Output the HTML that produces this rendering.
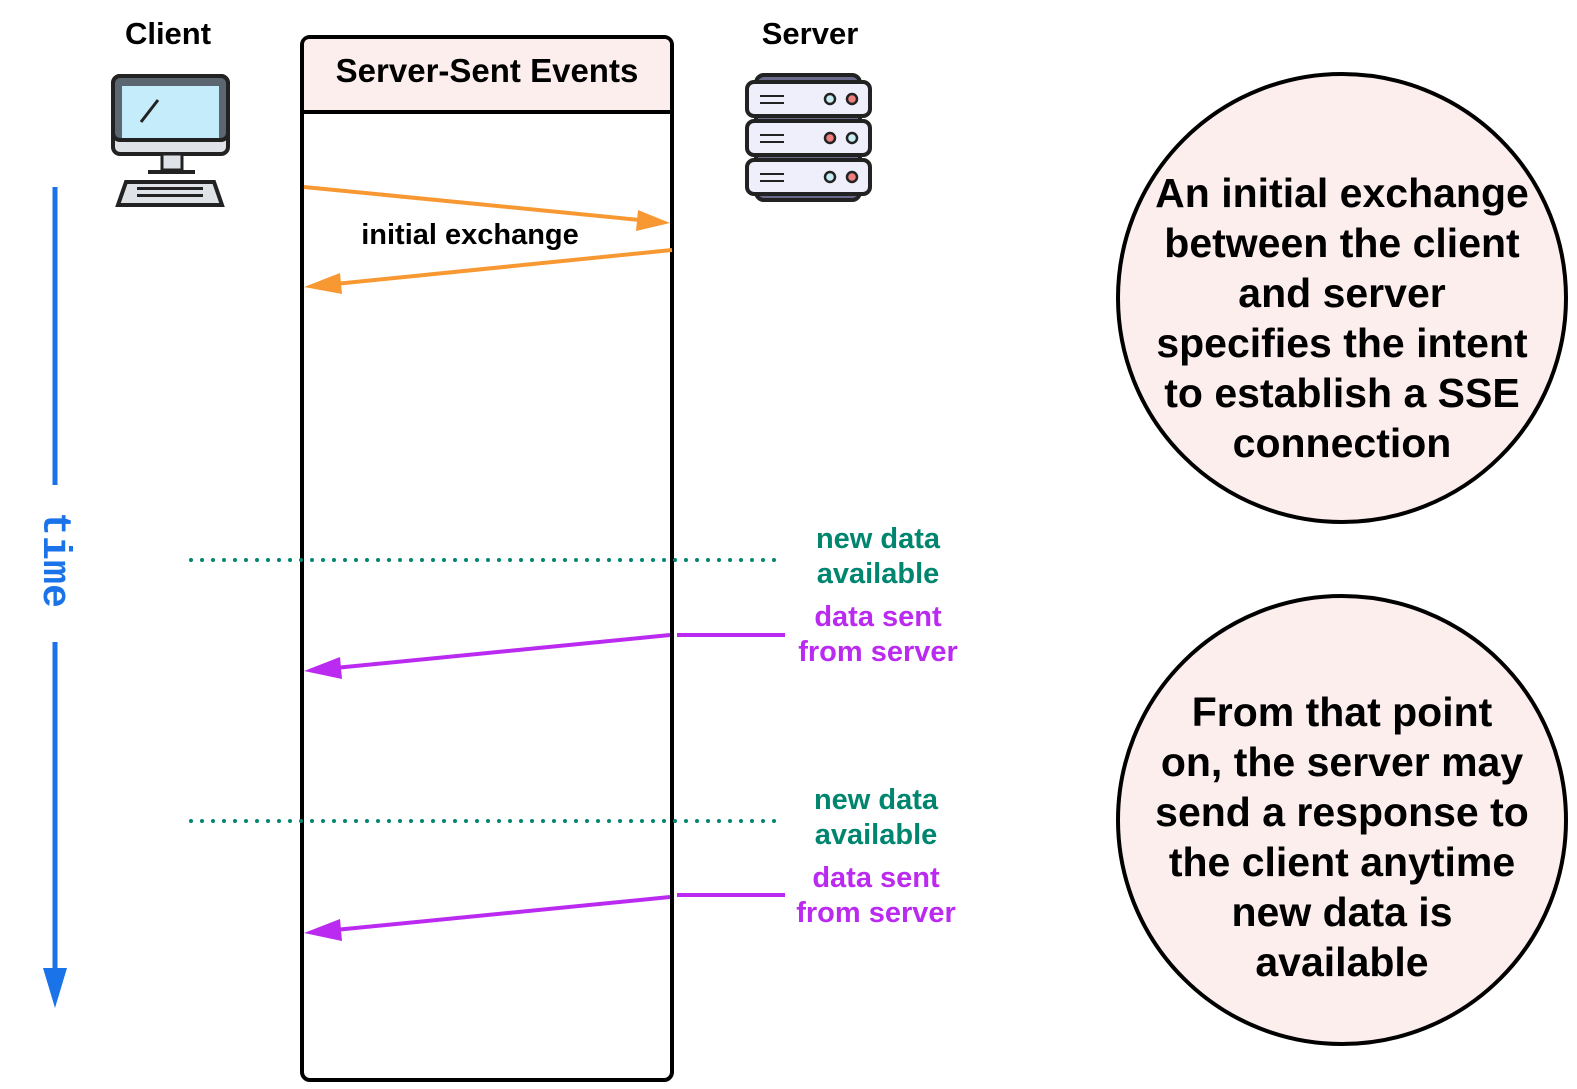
<!DOCTYPE html>
<html><head><style>body{margin:0;background:#fff}svg{display:block}</style></head><body>
<svg width="1577" height="1089" viewBox="0 0 1577 1089" xmlns="http://www.w3.org/2000/svg" font-family="Liberation Sans, sans-serif" font-weight="bold">
<text x="168" y="44" font-size="31" text-anchor="middle">Client</text>
<text x="810" y="44" font-size="31" text-anchor="middle">Server</text>
<!-- computer -->
<rect x="113" y="76" width="115" height="78" rx="7" fill="#dfe3e8" stroke="#222" stroke-width="4"/>
<rect x="113" y="76" width="115" height="64" rx="7" fill="#5c6670" stroke="#222" stroke-width="4"/>
<rect x="122" y="86" width="97" height="52" fill="#c5ecfb"/>
<line x1="141" y1="122" x2="158" y2="100" stroke="#222" stroke-width="3"/>
<rect x="162" y="154" width="20" height="16" fill="#dfe3e8" stroke="#222" stroke-width="3"/>
<line x1="148" y1="172" x2="195" y2="172" stroke="#222" stroke-width="4"/>
<path d="M126 182 L214 182 L222 205 L118 205 Z" fill="#dfe3e8" stroke="#222" stroke-width="4"/>
<g fill="#222"><rect x="137" y="187" width="66" height="3"/><rect x="137" y="194" width="66" height="3"/></g>
<!-- server -->
<g stroke="#222" stroke-width="4" fill="#eeeffa">
<rect x="756" y="75" width="104" height="125" rx="8" fill="#6a6a8a"/>
<rect x="747" y="82" width="123" height="34" rx="7"/>
<rect x="747" y="121" width="123" height="34" rx="7"/>
<rect x="747" y="160" width="123" height="34" rx="7"/>
</g>
<g stroke="#222" stroke-width="2.5">
<circle cx="830" cy="99" r="5" fill="#c8eef5"/><circle cx="852" cy="99" r="5" fill="#f08080"/>
<circle cx="830" cy="138" r="5" fill="#f08080"/><circle cx="852" cy="138" r="5" fill="#c8eef5"/>
<circle cx="830" cy="177" r="5" fill="#c8eef5"/><circle cx="852" cy="177" r="5" fill="#f08080"/>
</g>
<g fill="#222"><rect x="760" y="95" width="24" height="2"/><rect x="760" y="102" width="24" height="2"/><rect x="760" y="134" width="24" height="2"/><rect x="760" y="141" width="24" height="2"/><rect x="760" y="173" width="24" height="2"/><rect x="760" y="180" width="24" height="2"/></g>
<!-- box -->
<rect x="302" y="37" width="370" height="1043" rx="8" fill="#fff" stroke="#000" stroke-width="4"/>
<path d="M304 112 L304 45 Q304 39 310 39 L664 39 Q670 39 670 45 L670 112 Z" fill="#fdeeee"/>
<line x1="302" y1="112" x2="672" y2="112" stroke="#000" stroke-width="4"/>
<text x="487" y="82" font-size="33" text-anchor="middle">Server-Sent Events</text>
<!-- orange -->
<line x1="304" y1="187" x2="640" y2="220" stroke="#f89833" stroke-width="4"/>
<path d="M670 223 L636 231 L638 210 Z" fill="#f89833"/>
<line x1="672" y1="250" x2="335" y2="284" stroke="#f89833" stroke-width="4"/>
<path d="M304 287 L340 273 L342 294 Z" fill="#f89833"/>
<text x="470" y="244" font-size="29" text-anchor="middle">initial exchange</text>
<!-- time -->
<line x1="55" y1="187" x2="55" y2="485" stroke="#1a73e8" stroke-width="5"/>
<line x1="55" y1="642" x2="55" y2="975" stroke="#1a73e8" stroke-width="5"/>
<path d="M43 968 L67 968 L55 1008 Z" fill="#1a73e8"/>
<text transform="translate(44,560) rotate(90)" font-family="Liberation Mono, monospace" font-size="40" fill="#1a73e8" text-anchor="middle">time</text>
<!-- dotted -->
<line x1="191" y1="560" x2="785" y2="560" stroke="#00856f" stroke-width="4" stroke-dasharray="0 11" stroke-linecap="round"/>
<line x1="191" y1="821" x2="785" y2="821" stroke="#00856f" stroke-width="4" stroke-dasharray="0 11" stroke-linecap="round"/>
<g font-size="29" text-anchor="middle" fill="#00856f">
<text x="878" y="548">new data</text><text x="878" y="583">available</text>
<text x="876" y="809">new data</text><text x="876" y="844">available</text></g>
<g font-size="29" text-anchor="middle" fill="#bb2af0">
<text x="878" y="626">data sent</text><text x="878" y="661">from server</text>
<text x="876" y="887">data sent</text><text x="876" y="922">from server</text></g>
<g stroke="#bb2af0" stroke-width="4">
<line x1="677" y1="635" x2="785" y2="635"/><line x1="670" y1="635" x2="335" y2="668"/>
<line x1="677" y1="895" x2="785" y2="895"/><line x1="670" y1="897" x2="335" y2="930"/></g>
<path d="M304 671 L340 657 L342 679 Z" fill="#bb2af0"/>
<path d="M304 933 L340 919 L342 941 Z" fill="#bb2af0"/>
<!-- circles -->
<circle cx="1342" cy="298" r="224" fill="#fdeeee" stroke="#000" stroke-width="4"/>
<circle cx="1342" cy="820" r="224" fill="#fdeeee" stroke="#000" stroke-width="4"/>
<g font-size="41" text-anchor="middle">
<text x="1342" y="207">An initial exchange</text>
<text x="1342" y="257">between the client</text>
<text x="1342" y="307">and server</text>
<text x="1342" y="357">specifies the intent</text>
<text x="1342" y="407">to establish a SSE</text>
<text x="1342" y="457">connection</text>
<text x="1342" y="726">From that point</text>
<text x="1342" y="776">on, the server may</text>
<text x="1342" y="826">send a response to</text>
<text x="1342" y="876">the client anytime</text>
<text x="1342" y="926">new data is</text>
<text x="1342" y="976">available</text>
</g>
</svg>
</body></html>
